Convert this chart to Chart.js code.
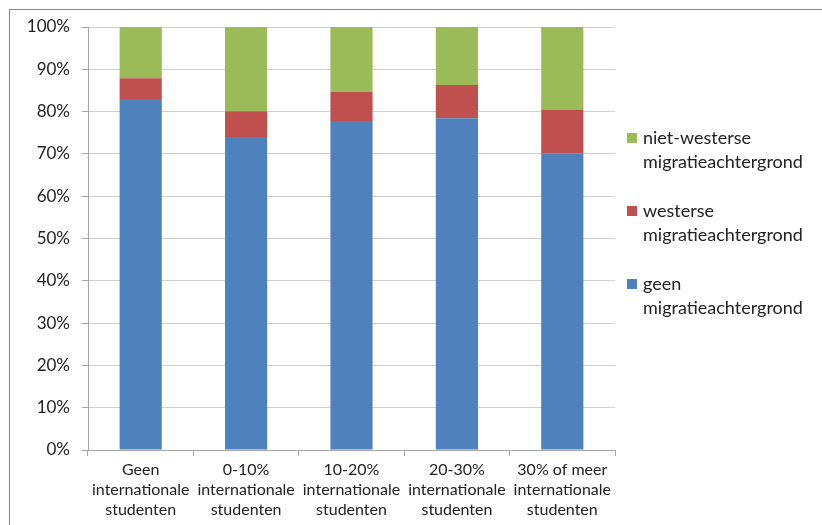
<!DOCTYPE html>
<html lang="nl">
<head>
<meta charset="UTF-8">
<title>Migratieachtergrond naar aandeel internationale studenten</title>
<script src="https://cdn.jsdelivr.net/npm/chart.js"></script>
<style>
  body { margin: 0; background: #fff; }
  #wrap { position: relative; width: 822px; height: 525px; overflow: hidden; }
  #frame {
    position: absolute; left: 9px; top: 9px; width: 900px; height: 600px;
    border-top: 1px solid #8a8a8a; border-left: 1px solid #8a8a8a;
  }
  canvas { position: absolute; left: 0; top: 0; }
</style>
</head>
<body>
<div id="wrap">
  <div id="frame"></div>
  <canvas id="chart" width="822" height="525"></canvas>
</div>
<script>
// categories (x axis, multi-line labels)
const categories = [
  ['Geen', 'internationale', 'studenten'],
  ['0-10%', 'internationale', 'studenten'],
  ['10-20%', 'internationale', 'studenten'],
  ['20-30%', 'internationale', 'studenten'],
  ['30% of meer', 'internationale', 'studenten']
];

// shares in percent
const geen = [83.0, 74.0, 77.8, 78.4, 70.1];
const westers = [4.9, 6.1, 6.9, 7.9, 10.4];
const nietWesters = [12.1, 19.9, 15.3, 13.7, 19.5];

const seriesLabels = [
  ['geen', 'migratieachtergrond'],
  ['westerse', 'migratieachtergrond'],
  ['niet-westerse', 'migratieachtergrond']
];
const colors = ['#4F81BD', '#C0504D', '#9BBB59'];

const yTicks = [0, 10, 20, 30, 40, 50, 60, 70, 80, 90, 100];

const FONT = 'Lato, "Open Sans", sans-serif';

// legend on the right, drawn top-down in reverse series order
const sideLegend = {
  id: 'sideLegend',
  afterDraw(chart) {
    const ctx = chart.ctx;
    const sets = chart.data.datasets;
    ctx.save();
    ctx.font = '18px ' + FONT;
    ctx.textBaseline = 'middle';
    ctx.textAlign = 'left';
    let y = 138;
    for (let i = sets.length - 1; i >= 0; i--) {
      const ds = sets[i];
      ctx.fillStyle = ds.backgroundColor;
      ctx.fillRect(627, y - 5, 10, 10);
      ctx.fillStyle = '#222';
      ds.legendLines.forEach((line, k) => ctx.fillText(line, 643, y + k * 24));
      y += 73;
    }
    ctx.restore();
  }
};

new Chart(document.getElementById('chart').getContext('2d'), {
  type: 'bar',
  data: {
    labels: categories,
    datasets: [
      { label: seriesLabels[0].join(' '), legendLines: seriesLabels[0], data: geen, backgroundColor: colors[0] },
      { label: seriesLabels[1].join(' '), legendLines: seriesLabels[1], data: westers, backgroundColor: colors[1] },
      { label: seriesLabels[2].join(' '), legendLines: seriesLabels[2], data: nietWesters, backgroundColor: colors[2] }
    ]
  },
  options: {
    responsive: false,
    animation: false,
    layout: { padding: { left: 0, top: 27, right: 207, bottom: 0 } },
    datasets: { bar: { categoryPercentage: 1, barPercentage: 0.4 } },
    plugins: {
      legend: { display: false },
      tooltip: { enabled: false }
    },
    scales: {
      x: {
        stacked: true,
        afterFit(s) { s.height = 75; },
        grid: { drawOnChartArea: false, tickLength: 6, color: '#a6a6a6' },
        border: { color: '#a6a6a6' },
        ticks: {
          color: '#222', padding: 4, maxRotation: 0, autoSkip: false,
          font: { family: FONT, size: 16, lineHeight: 1.25 }
        }
      },
      y: {
        stacked: true,
        min: 0, max: 100,
        afterFit(s) { s.width = 88; },
        afterBuildTicks(s) { s.ticks = yTicks.map(v => ({ value: v })); },
        grid: { color: '#d0d0d0', tickLength: 6, tickColor: '#a6a6a6' },
        border: { color: '#a6a6a6' },
        ticks: {
          color: '#222', padding: 12,
          font: { family: FONT, size: 17 },
          callback: v => v + '%'
        }
      }
    }
  },
  plugins: [sideLegend]
});
</script>
</body>
</html>
